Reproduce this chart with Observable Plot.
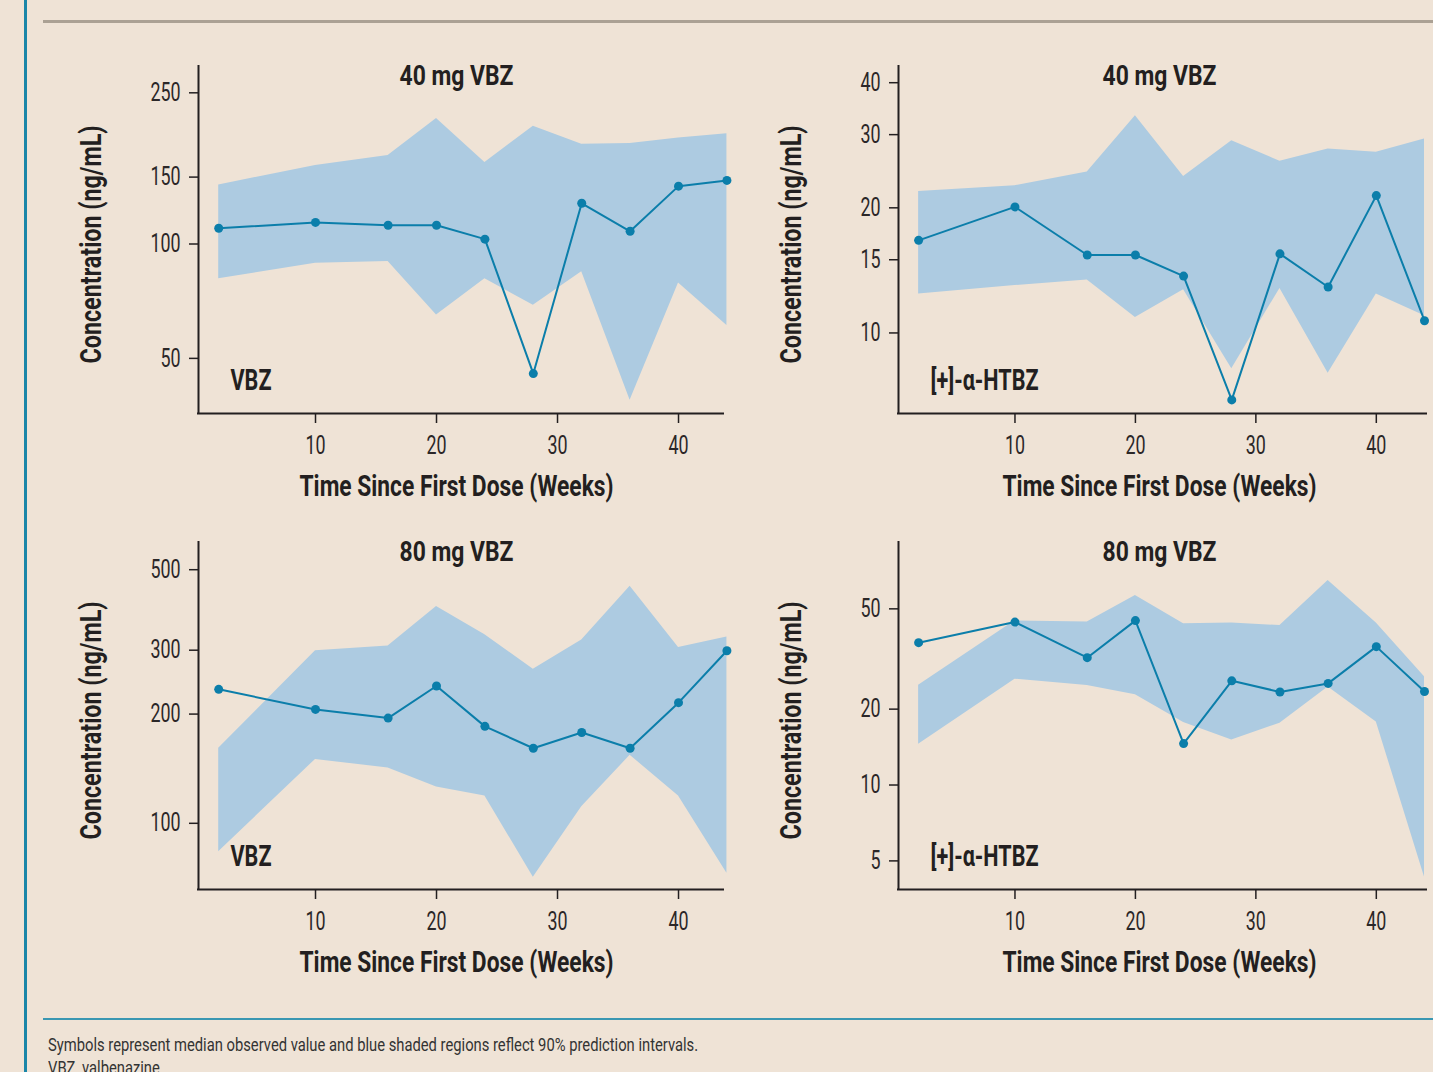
<!DOCTYPE html>
<html>
<head>
<meta charset="utf-8">
<script src="https://cdn.jsdelivr.net/npm/d3@7"></script>
<script src="https://cdn.jsdelivr.net/npm/@observablehq/plot@0.6"></script>
<style>
  html, body { margin: 0; padding: 0; }
  body {
    width: 1433px; height: 1072px; overflow: hidden; position: relative;
    background: #efe3d6; color: #231f20;
    font-family: Roboto, sans-serif;
  }
  .deco { position: absolute; }
  .panel { position: absolute; }
  .caption { position: absolute; left: 48px; font-size: 18px; color: #333; white-space: nowrap; transform-origin: 0 0; }
</style>
</head>
<body>
<div class="deco" style="left:24px;top:0;width:3px;height:1072px;background:#1a86a8"></div>
<div class="deco" style="left:43px;top:20px;width:1390px;height:3px;background:#aba194"></div>
<div class="deco" style="left:43px;top:1018px;width:1390px;height:2px;background:#3a97b2"></div>
<div id="cap1" class="caption" style="top:1034px">Symbols represent median observed value and blue shaded regions reflect 90% prediction intervals.</div>
<div id="cap2" class="caption" style="top:1057px">VBZ, valbenazine.</div>
<div id="p1" class="panel" style="left:60px;top:40px"></div>
<div id="p2" class="panel" style="left:760px;top:40px"></div>
<div id="p3" class="panel" style="left:60px;top:516px"></div>
<div id="p4" class="panel" style="left:760px;top:516px"></div>
<script>
// ---- data ----
const weeks = [2, 10, 16, 20, 24, 28, 32, 36, 40, 44];
const xTicks = [10, 20, 30, 40];

// 40 mg VBZ — VBZ
const vbz40Median = [110, 114, 112, 112, 103, 45.6, 128, 108, 142, 147];
const vbz40Lower  = [81, 89, 90, 65, 81, 69, 84.5, 38.8, 79, 61];
const vbz40Upper  = [143, 161, 171, 214, 164, 204, 183, 184, 190, 195];
const vbz40Ticks  = [50, 100, 150, 250];

// 40 mg VBZ — [+]-α-HTBZ
const htbz40Median = [16.7, 20.1, 15.4, 15.4, 13.7, 6.9, 15.5, 12.9, 21.4, 10.7];
const htbz40Lower  = [12.4, 13.0, 13.4, 10.9, 12.7, 8.2, 12.8, 8.0, 12.4, 11.0];
const htbz40Upper  = [21.9, 22.6, 24.4, 33.3, 23.8, 29.0, 25.9, 27.7, 27.2, 29.3];
const htbz40Ticks  = [10, 15, 20, 30, 40];

// 80 mg VBZ — VBZ
const vbz80Median = [234, 206, 195, 239, 185, 161, 178, 161, 215, 299];
const vbz80Lower  = [83.5, 150, 142, 126, 119, 71, 111, 154, 119, 72.8];
const vbz80Upper  = [161, 299, 308, 396, 331, 266, 320, 450, 305, 326];
const vbz80Ticks  = [100, 200, 300, 500];

// 80 mg VBZ — [+]-α-HTBZ
const htbz80Median = [36.7, 44.3, 32.0, 44.9, 14.6, 25.9, 23.4, 25.3, 35.4, 23.5];
const htbz80Lower  = [14.5, 26.3, 24.8, 22.8, 17.7, 15.1, 17.6, 24.5, 17.8, 4.32];
const htbz80Upper  = [24.9, 44.8, 44.3, 56.5, 43.6, 43.9, 42.9, 64.8, 43.9, 26.9];
const htbz80Ticks  = [5, 10, 20, 50];

const panelTitles = ["40 mg VBZ", "40 mg VBZ", "80 mg VBZ", "80 mg VBZ"];
const analyteLabels = ["VBZ", "[+]-α-HTBZ", "VBZ", "[+]-α-HTBZ"];
const xLabel = "Time Since First Dose (Weeks)";
const yLabel = "Concentration (ng/mL)";

// ---- style ----
const BAND = "#adcbe1";
const LINE = "#0b7eaa";
const INK = "#231f20";
const FONT = 'Roboto, "Open Sans", sans-serif';

// target rendered widths (px) to mimic the condensed typeface of the original
const condenseTargets = new Map([
  ["40 mg VBZ", 114], ["80 mg VBZ", 114], ["VBZ", 41], ["[+]-α-HTBZ", 108],
  [xLabel, 314], [yLabel, 238]
]);
const TICK_CONDENSE = 0.70;

function condense(svg) {
  svg.querySelectorAll("text").forEach(t => {
    const s = t.textContent;
    const natural = t.getComputedTextLength();
    if (!natural) return;
    let target;
    if (condenseTargets.has(s)) target = condenseTargets.get(s);
    else target = natural * TICK_CONDENSE;
    t.setAttribute("textLength", target.toFixed(2));
    t.setAttribute("lengthAdjust", "spacingAndGlyphs");
  });
}

function makePanel(el, cfg) {
  const rows = weeks.map((w, i) => ({week: w, median: cfg.median[i], lo: cfg.lower[i], hi: cfg.upper[i]}));
  const chart = Plot.plot({
    width: cfg.width, height: 480,
    marginLeft: 138, marginRight: cfg.marginRight, marginTop: 25, marginBottom: 107,
    style: {background: "transparent", color: INK, fontFamily: FONT, overflow: "visible"},
    x: {type: "linear", domain: cfg.xDomain},
    y: {type: "log", domain: cfg.yDomain},
    marks: [
      Plot.areaY(rows, {x: "week", y1: "lo", y2: "hi", fill: BAND, fillOpacity: 1}),
      Plot.lineY(rows, {x: "week", y: "median", stroke: LINE, strokeWidth: 2}),
      Plot.dot(rows, {x: "week", y: "median", fill: LINE, r: 4.5}),
      Plot.ruleX([cfg.xDomain[0]], {stroke: INK, strokeWidth: 2, insetBottom: -1}),
      Plot.ruleY([cfg.yDomain[0]], {stroke: INK, strokeWidth: 2, insetLeft: -1}),
      Plot.axisY(cfg.ticks, {tickSize: 9, tickPadding: 9, fontSize: 25.5, tickFormat: d => String(d), label: null, strokeWidth: 1.5, fill: "#2b2728"}),
      Plot.axisX(xTicks, {tickSize: 10, tickPadding: 12, fontSize: 25.5, tickFormat: d => String(d), label: null, strokeWidth: 1.5, fill: "#2b2728"}),
      Plot.text([cfg.title], {frameAnchor: "top", lineAnchor: "middle", dy: 11, dx: cfg.dx, fontSize: 28, fontWeight: "bold", fill: INK}),
      Plot.text([cfg.analyte], {frameAnchor: "bottom-left", lineAnchor: "middle", textAnchor: "start", dx: 32, dy: -33, fontSize: 29, fontWeight: "bold", fill: INK}),
      Plot.text([xLabel], {frameAnchor: "bottom", lineAnchor: "middle", dy: 73, dx: cfg.dx, fontSize: 30, fontWeight: "bold", fill: INK}),
      Plot.text([yLabel], {frameAnchor: "left", lineAnchor: "middle", textAnchor: "middle", rotate: -90, dx: -107, dy: 5, fontSize: 29, fontWeight: "bold", fill: INK})
    ]
  });
  el.appendChild(chart);
  condense(chart);
}

makePanel(document.getElementById("p1"), {
  width: 690, marginRight: 26, xDomain: [0.33, 43.8], yDomain: [35.8, 295],
  median: vbz40Median, lower: vbz40Lower, upper: vbz40Upper, ticks: vbz40Ticks,
  title: panelTitles[0], analyte: analyteLabels[0], dx: -5
});
makePanel(document.getElementById("p2"), {
  width: 673, marginRight: 6, xDomain: [0.33, 44.25], yDomain: [6.4, 44],
  median: htbz40Median, lower: htbz40Lower, upper: htbz40Upper, ticks: htbz40Ticks,
  title: panelTitles[1], analyte: analyteLabels[1], dx: -3.5
});
makePanel(document.getElementById("p3"), {
  width: 690, marginRight: 26, xDomain: [0.33, 43.8], yDomain: [65.7, 598],
  median: vbz80Median, lower: vbz80Lower, upper: vbz80Upper, ticks: vbz80Ticks,
  title: panelTitles[2], analyte: analyteLabels[2], dx: -5
});
makePanel(document.getElementById("p4"), {
  width: 673, marginRight: 6, xDomain: [0.33, 44.25], yDomain: [3.85, 92.5],
  median: htbz80Median, lower: htbz80Lower, upper: htbz80Upper, ticks: htbz80Ticks,
  title: panelTitles[3], analyte: analyteLabels[3], dx: -3.5
});

// condense the caption to the original's narrow width
const cap1 = document.getElementById("cap1");
const k = 650 / cap1.scrollWidth;
document.querySelectorAll(".caption").forEach(c => c.style.transform = `scaleX(${k.toFixed(3)})`);
</script>
</body>
</html>
